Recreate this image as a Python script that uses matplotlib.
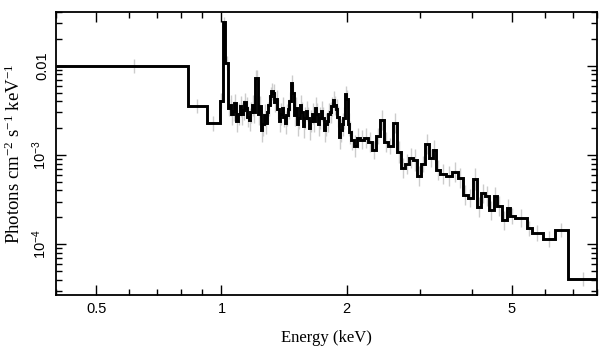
import numpy as np
import matplotlib
matplotlib.use("Agg")
import matplotlib.pyplot as plt
from matplotlib.ticker import FixedLocator, LogLocator, NullFormatter

plt.rcParams["mathtext.fontset"] = "custom"
plt.rcParams["mathtext.rm"] = "Liberation Serif"
plt.rcParams["mathtext.it"] = "Liberation Serif:italic"
plt.rcParams["mathtext.sf"] = "Liberation Sans"

# bin edges (keV) and unfolded flux (photons cm^-2 s^-1 keV^-1)
edges = [0.4, 0.829, 0.921, 0.990, 1.007, 1.021, 1.037,
         1.048, 1.057, 1.066, 1.075, 1.084, 1.096, 1.108, 1.117, 1.126, 1.135,
         1.145, 1.155, 1.165, 1.174, 1.184, 1.194, 1.204, 1.214, 1.224, 1.234,
         1.245, 1.255, 1.265, 1.275, 1.286, 1.297, 1.308, 1.319, 1.330, 1.341,
         1.352, 1.363, 1.375, 1.386, 1.398, 1.409, 1.421, 1.433, 1.445, 1.457,
         1.469, 1.481, 1.494, 1.506, 1.519, 1.531, 1.544, 1.557, 1.570, 1.583,
         1.597, 1.610, 1.623, 1.637, 1.651, 1.664, 1.678, 1.692, 1.707, 1.721,
         1.735, 1.749, 1.764, 1.779, 1.794, 1.809, 1.824, 1.839, 1.854, 1.870,
         1.886, 1.901, 1.917, 1.933, 1.949, 1.965, 1.982, 1.998, 2.015, 2.031,
         2.048, 2.083, 2.118,
         2.154, 2.202, 2.251, 2.301, 2.353, 2.406, 2.459, 2.514, 2.585, 2.643,
         2.702, 2.763, 2.825, 2.887, 2.952, 3.018, 3.086, 3.155, 3.226, 3.280,
         3.354, 3.467, 3.584, 3.706, 3.809, 3.915, 4.026, 4.116, 4.208, 4.302,
         4.398, 4.522, 4.598, 4.727, 4.860, 4.941, 5.080, 5.428, 5.580, 5.933,
         6.340, 6.813, 8.0]

flux = [1.00e-2, 3.55e-3, 2.27e-3, 4.07e-3, 3.07e-2, 1.08e-2,
        3.38e-3, 3.6e-3, 2.9e-3, 3.1e-3, 3.8e-3, 2.4e-3, 2.9e-3, 3.5e-3, 2.9e-3, 3.2e-3,
        3.9e-3, 3.4e-3, 2.7e-3, 2.5e-3, 3.0e-3, 3.6e-3, 3.0e-3, 7.3e-3, 7.3e-3, 2.9e-3,
        3.5e-3, 1.9e-3, 2.2e-3, 2.8e-3, 2.3e-3, 3.0e-3, 3.6e-3, 4.6e-3, 5.2e-3, 5.0e-3,
        3.9e-3, 4.2e-3, 3.3e-3, 2.4e-3, 2.9e-3, 3.4e-3, 2.7e-3, 2.3e-3, 2.8e-3, 3.3e-3,
        4.0e-3, 6.4e-3, 5.0e-3, 2.8e-3, 3.4e-3, 2.2e-3, 2.6e-3, 3.6e-3, 3.0e-3, 2.1e-3,
        2.6e-3, 3.1e-3, 2.6e-3, 2.0e-3, 2.4e-3, 2.9e-3, 2.4e-3, 3.4e-3, 2.9e-3, 2.2e-3,
        2.6e-3, 3.1e-3, 2.6e-3, 1.9e-3, 2.2e-3, 2.4e-3, 2.9e-3, 3.0e-3, 3.5e-3, 4.1e-3,
        3.6e-3, 3.3e-3, 2.7e-3, 1.6e-3, 1.9e-3, 2.2e-3, 2.6e-3, 4.8e-3, 4.2e-3, 2.2e-3,
        1.8e-3, 1.48e-3, 1.26e-3,
        1.55e-3, 1.48e-3, 1.55e-3, 1.40e-3, 1.14e-3, 1.63e-3, 2.47e-3, 1.40e-3, 1.26e-3, 2.29e-3,
        1.08e-3, 7.14e-4, 7.92e-4, 9.25e-4, 8.79e-4, 5.81e-4, 7.92e-4, 1.33e-3, 9.25e-4, 1.14e-3,
        6.78e-4, 6.12e-4, 5.81e-4, 6.44e-4, 5.52e-4, 3.55e-4, 3.29e-4, 5.37e-4, 2.61e-4, 3.74e-4,
        3.46e-4, 2.41e-4, 3.46e-4, 2.67e-4, 1.86e-4, 2.54e-4, 2.07e-4, 1.96e-4, 1.51e-4, 1.33e-4,
        1.14e-4, 1.44e-4, 4.07e-5]

# relative 1-sigma errors per bin
rel_err = [0.20, 0.20, 0.22, 0.22, 0.15, 0.20,
           0.25, 0.30, 0.32, 0.30, 0.28, 0.34, 0.32, 0.30, 0.32, 0.30,
           0.28, 0.30, 0.32, 0.34, 0.32, 0.30, 0.32, 0.22, 0.24, 0.32,
           0.30, 0.36, 0.34, 0.32, 0.34, 0.32, 0.30, 0.26, 0.25, 0.26,
           0.28, 0.28, 0.30, 0.34, 0.32, 0.30, 0.32, 0.34, 0.32, 0.30,
           0.28, 0.22, 0.26, 0.32, 0.30, 0.34, 0.32, 0.30, 0.32, 0.35,
           0.32, 0.30, 0.32, 0.35, 0.33, 0.31, 0.33, 0.30, 0.31, 0.34,
           0.32, 0.30, 0.32, 0.36, 0.34, 0.33, 0.31, 0.30, 0.29, 0.27,
           0.28, 0.30, 0.32, 0.38, 0.35, 0.34, 0.32, 0.24, 0.26, 0.34,
           0.35, 0.30, 0.32,
           0.28, 0.28, 0.28, 0.30, 0.27, 0.24, 0.28, 0.30, 0.24, 0.30,
           0.32, 0.30, 0.28, 0.28, 0.32, 0.30, 0.24, 0.28, 0.26, 0.30,
           0.28, 0.28, 0.28, 0.28, 0.30, 0.30, 0.25, 0.32, 0.28, 0.28,
           0.30, 0.28, 0.28, 0.30, 0.28, 0.28, 0.22, 0.25, 0.22, 0.22,
           0.22, 0.20, 0.20]

xticks = [0.5, 1, 2, 5]
xtick_labels = ["0.5", "1", "2", "5"]
xminor = [0.4, 0.6, 0.7, 0.8, 0.9, 3, 4, 6, 7, 8]
yticks = [1e-4, 1e-3, 1e-2]
ytick_labels = [r"$\mathsf{10^{-4}}$", r"$\mathsf{10^{-3}}$", "0.01"]

e = np.array(edges)
f = np.array(flux)
r = np.array(rel_err)
centers = 0.5 * (e[:-1] + e[1:])
err_lo = f - f / (1 + r)
err_hi = f * r

fig = plt.figure(figsize=(6.09, 3.57), dpi=100)
ax = fig.add_axes([0.092, 0.174, 0.888, 0.792])

ax.errorbar(centers, f, yerr=[err_lo, err_hi], fmt="none",
            ecolor="#cccccc", elinewidth=1.0, zorder=1)
ax.stairs(f, e, baseline=None, color="black", linewidth=2.1, zorder=2)

ax.set_xscale("log")
ax.set_yscale("log")
ax.set_xlim(0.4, 8.0)
ax.set_ylim(2.7e-5, 0.04)

ax.xaxis.set_major_locator(FixedLocator(xticks))
ax.set_xticklabels(xtick_labels, fontfamily="Liberation Sans", fontsize=10.5)
ax.xaxis.set_minor_locator(FixedLocator(xminor))
ax.xaxis.set_minor_formatter(NullFormatter())

ax.yaxis.set_major_locator(FixedLocator(yticks))
ax.set_yticklabels(ytick_labels, fontfamily="Liberation Sans", fontsize=10.5,
                   rotation=90, va="center")
ax.yaxis.set_minor_locator(LogLocator(base=10, subs=range(2, 10)))
ax.yaxis.set_minor_formatter(NullFormatter())

ax.tick_params(which="both", direction="in", top=True, right=True, width=1.0)
ax.tick_params(which="major", length=7, pad=5)
ax.tick_params(which="minor", length=4)
for s in ax.spines.values():
    s.set_linewidth(1.3)

ax.set_xlabel("Energy (keV)", fontfamily="Liberation Serif", fontsize=12, labelpad=10)
ax.set_ylabel(r"Photons cm$^{-2}$ s$^{-1}$ keV$^{-1}$", fontfamily="Liberation Serif",
              fontsize=13.5, labelpad=5)

fig.savefig("out.png", dpi=100)
